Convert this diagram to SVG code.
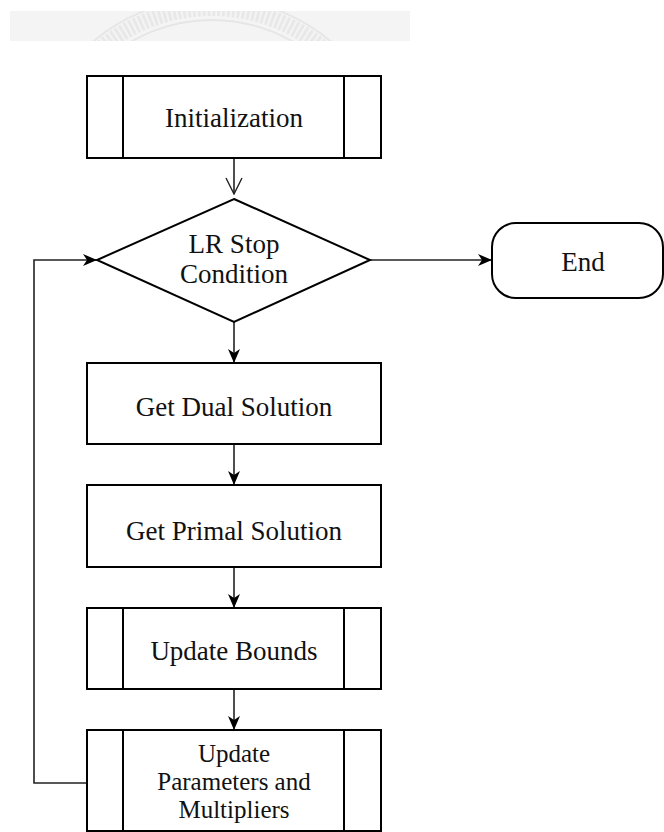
<svg xmlns="http://www.w3.org/2000/svg" width="664" height="832" viewBox="0 0 664 832">
  <style>
    .shape { fill: #ffffff; stroke: #000000; stroke-width: 2; }
    .inner { stroke: #000000; stroke-width: 2; }
    .label { font-family: "Liberation Serif", "Times New Roman", serif; font-size: 27px; fill: #111111; text-anchor: middle; }
    .label-sm { font-size: 25px; }
    .conn { fill: none; stroke: #222222; stroke-width: 1.6; }
  </style>
  <defs>
    <marker id="arrow-filled" markerUnits="userSpaceOnUse" viewBox="0 0 14 12" markerWidth="14" markerHeight="12" refX="14" refY="6" orient="auto">
      <path d="M0,0 L14,6 L0,12 L4,6 z" fill="#000000"/>
    </marker>
    <marker id="arrow-open" markerUnits="userSpaceOnUse" viewBox="0 0 18 18" markerWidth="18" markerHeight="18" refX="17" refY="9" orient="auto">
      <path d="M1,1 L17,9 L1,17" fill="none" stroke="#222222" stroke-width="1.4"/>
    </marker>
    <clipPath id="band-clip">
      <rect x="10" y="11" width="400" height="30"/>
    </clipPath>
  </defs>

  <rect width="664" height="832" fill="#ffffff"/>

  <!-- faint grey band with seal outline at the top -->
  <g id="header-band">
    <rect x="10" y="11" width="400" height="30" fill="#f4f4f4"/>
    <g clip-path="url(#band-clip)" fill="none">
      <circle cx="212" cy="182" r="184" stroke="#e6e6e6" stroke-width="2"/>
      <circle cx="212" cy="182" r="174" stroke="#e8e8e8" stroke-width="16" stroke-dasharray="3 2"/>
      <circle cx="212" cy="182" r="162" stroke="#e6e6e6" stroke-width="2"/>
    </g>
  </g>

  <!-- connectors -->
  <g id="connectors">
    <line class="conn" x1="234" y1="158" x2="234" y2="194" marker-end="url(#arrow-open)"/>
    <line class="conn" x1="234" y1="322" x2="234" y2="363" marker-end="url(#arrow-filled)"/>
    <line class="conn" x1="234" y1="444" x2="234" y2="485" marker-end="url(#arrow-filled)"/>
    <line class="conn" x1="234" y1="567" x2="234" y2="608" marker-end="url(#arrow-filled)"/>
    <line class="conn" x1="234" y1="689" x2="234" y2="730" marker-end="url(#arrow-filled)"/>
    <line class="conn" x1="370" y1="260" x2="492" y2="260" marker-end="url(#arrow-filled)"/>
    <polyline class="conn" points="87,783 34,783 34,260 97,260" marker-end="url(#arrow-filled)"/>
  </g>

  <!-- Initialization (predefined process) -->
  <g id="node-init">
    <rect class="shape" x="87" y="76" width="294" height="82"/>
    <line class="inner" x1="123" y1="76" x2="123" y2="158"/>
    <line class="inner" x1="344" y1="76" x2="344" y2="158"/>
    <text class="label" x="234" y="127">Initialization</text>
  </g>

  <!-- LR stop decision -->
  <g id="node-stop">
    <polygon class="shape" points="234,199 370,260 234,322 97,260"/>
    <text class="label" x="234" y="253">LR Stop</text>
    <text class="label" x="234" y="283">Condition</text>
  </g>

  <!-- End terminal -->
  <g id="node-end">
    <rect class="shape" x="492" y="223" width="171" height="75" rx="24" ry="24"/>
    <text class="label" x="583" y="271">End</text>
  </g>

  <!-- Dual solution -->
  <g id="node-dual">
    <rect class="shape" x="87" y="363" width="294" height="81"/>
    <text class="label" x="234" y="416">Get Dual Solution</text>
  </g>

  <!-- Primal solution -->
  <g id="node-primal">
    <rect class="shape" x="87" y="485" width="294" height="82"/>
    <text class="label" x="234" y="540">Get Primal Solution</text>
  </g>

  <!-- Update bounds (predefined process) -->
  <g id="node-bounds">
    <rect class="shape" x="87" y="608" width="294" height="81"/>
    <line class="inner" x1="123" y1="608" x2="123" y2="689"/>
    <line class="inner" x1="344" y1="608" x2="344" y2="689"/>
    <text class="label" x="234" y="660">Update Bounds</text>
  </g>

  <!-- Update parameters and multipliers (predefined process) -->
  <g id="node-params">
    <rect class="shape" x="87" y="730" width="294" height="101"/>
    <line class="inner" x1="123" y1="730" x2="123" y2="831"/>
    <line class="inner" x1="344" y1="730" x2="344" y2="831"/>
    <text class="label label-sm" x="234" y="762">Update</text>
    <text class="label label-sm" x="234" y="790">Parameters and</text>
    <text class="label label-sm" x="234" y="818">Multipliers</text>
  </g>
</svg>
